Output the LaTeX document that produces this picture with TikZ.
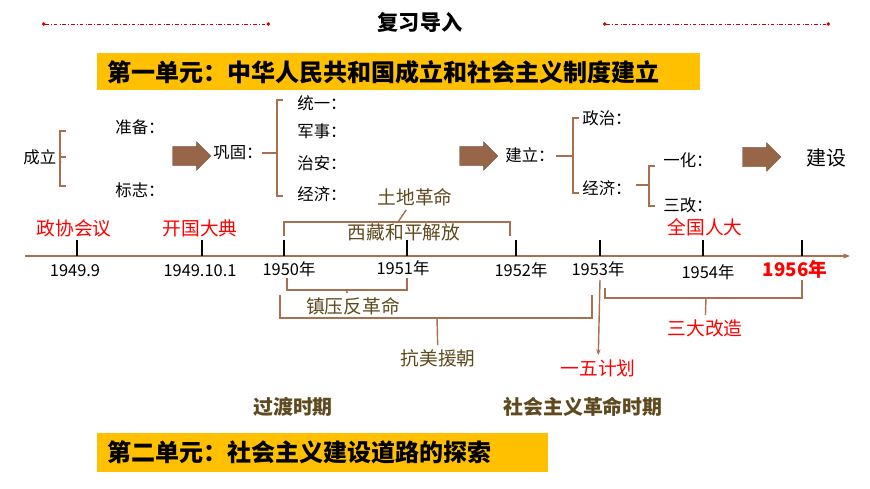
\documentclass[tikz,border=0pt]{standalone}
\usepackage{fontspec}
\setmainfont{Noto Sans CJK SC}
\usepackage{tikz}
\usetikzlibrary{arrows.meta,shapes.arrows}
\definecolor{brace}{HTML}{A8704F}
\definecolor{olive}{HTML}{5E4A1E}
\definecolor{gold}{HTML}{FFC000}
\tikzset{
  lbl/.style={font=\fontsize{14}{14}\selectfont},
  yr/.style={font=\fontsize{14}{14}\selectfont},
  ev/.style={font=\fontsize{16}{16}\selectfont,text=red},
  ol/.style={font=\fontsize{16}{16}\selectfont,text=olive},
  br/.style={draw=brace,line width=1.2pt},
  big/.style={single arrow,fill=brace!90!black,draw=brace!70!black,minimum height=1.15cm,minimum width=0.85cm,single arrow head extend=0.12cm,inner sep=0pt},
  unit/.style={fill=gold,font=\bfseries\fontsize{20.5}{20.5}\selectfont,inner sep=0pt,anchor=west,align=left}
}
\newcommand{\shaft}{\rule{0pt}{0.45cm}\rule{0.55cm}{0pt}}
\begin{document}
\begin{tikzpicture}[x=0.03cm,y=-0.03cm]
\useasboundingbox (0,0) rectangle (870,489);

%title and dash-dot lines
\node[font=\bfseries\fontsize{18}{18}\selectfont] (title) at (420,22) {复习导入};
\draw[red!80!black,dash dot,line width=0.8pt,{Circle[length=3pt]}-{Circle[length=3pt]}] (42,24) -- (270,24);
\draw[red!80!black,dash dot,line width=0.8pt,{Circle[length=3pt]}-{Circle[length=3pt]}] (603,24) -- (830,24);

%unit boxes
\node[unit,minimum width=603*0.03cm,minimum height=37*0.03cm,text width=600*0.03cm] (u1) at (97,72) {\hspace{0.25cm}第一单元：中华人民共和国成立和社会主义制度建立};
\node[unit,minimum width=451*0.03cm,minimum height=39*0.03cm,text width=448*0.03cm] (u2) at (97,452) {\hspace{0.25cm}第二单元：社会主义建设道路的探索};

%upper tree
\node[lbl] (cl) at (48,157) {成立：};
\draw[br] (66,131) -- (60,131) -- (60,186) -- (66,186);
\draw[br] (60,157) -- (66,157);
\node[lbl] (zb) at (140,127) {准备：};
\node[lbl] (bz) at (140,190) {标志：};
\node[big] (a1) at (187,156) {\shaft};
\node[lbl] (gg) at (238,153) {巩固：};
\draw[br] (283,100) -- (277,100) -- (277,196) -- (283,196);
\draw[br] (262,153) -- (277,153);
\node[lbl] (ty) at (322,103) {统一：};
\node[lbl] (js) at (322,131) {军事：};
\node[lbl] (za) at (322,163) {治安：};
\node[lbl] (jj1) at (322,194) {经济：};
\node[big] (a2) at (474,156) {\shaft};
\node[lbl] (jl) at (530,155) {建立：};
\draw[br] (579,118) -- (573,118) -- (573,193) -- (579,193);
\draw[br] (556,156) -- (573,156);
\node[lbl] (zz) at (607,118) {政治：};
\node[lbl] (jj2) at (607,188) {经济：};
\draw[br] (655,166) -- (649,166) -- (649,206) -- (655,206);
\draw[br] (636,185) -- (649,185);
\node[lbl] (yh) at (688,160) {一化：};
\node[lbl] (sg) at (688,205) {三改：};
\node[big] (a3) at (757,157) {\shaft};
\node[font=\fontsize{17}{17}\selectfont] (js2) at (826,158) {建设};

%time axis
\draw[brace,line width=1.2pt,-{Stealth[length=6pt]}] (25,256) -- (850,256);
\foreach \x in {77,202,284,407,516,600,703,802}
  \draw[line width=1.2pt] (\x,240) -- (\x,256);
\node[yr] (y1) at (75,271) {1949.9};
\node[yr] (y2) at (200,271) {1949.10.1};
\node[yr] (y3) at (289,269) {1950年};
\node[yr] (y4) at (403,268) {1951年};
\node[yr] (y5) at (521,270) {1952年};
\node[yr] (y6) at (598,269) {1953年};
\node[yr] (y7) at (708,272) {1954年};
\node[font=\bfseries\fontsize{16}{16}\selectfont,text=red] (y8) at (795,269) {1956年};
\node[ev] (zx) at (74,228) {政协会议};
\node[ev] (kg) at (200,228) {开国大典};
\node[ev] (qg) at (705,227) {全国人大};

%braces
\node[ol] (td) at (415,197) {土地革命};
\draw[br] (284,236) -- (284,222) -- (510,222) -- (510,236);
\draw[br] (td) -- (398,222);
\node[ol] (xz) at (404,232) {西藏和平解放};
\draw[br] (287,278) -- (287,290) -- (407,290) -- (407,278);
\coordinate (z1) at (346,290);
\node[ol] (zy) at (353,306) {镇压反革命};
\draw[br] (z1) -- (zy);
\draw[br] (280,295) -- (280,318) -- (592,318) -- (592,295);
\coordinate (k1) at (437,318);
\node[ol] (kmy) at (438,358) {抗美援朝};
\draw[br] (k1) -- (kmy);
\coordinate (p1) at (600,280);
\node[ev] (yw) at (598,368) {一五计划};
\draw[brace,line width=1.2pt,-{Stealth[length=5pt]}] (p1) -- (yw);
\draw[br] (605,288) -- (605,298) -- (802,298) -- (802,280);
\coordinate (s1) at (706,298);
\node[ev] (sd) at (705,328) {三大改造};
\draw[br] (s1) -- (sd);

%periods
\node[font=\bfseries\fontsize{17}{17}\selectfont,text=olive] (gd) at (293,407) {过渡时期};
\node[font=\bfseries\fontsize{17}{17}\selectfont,text=olive] (sh) at (583,407) {社会主义革命时期};
\end{tikzpicture}
\end{document}
